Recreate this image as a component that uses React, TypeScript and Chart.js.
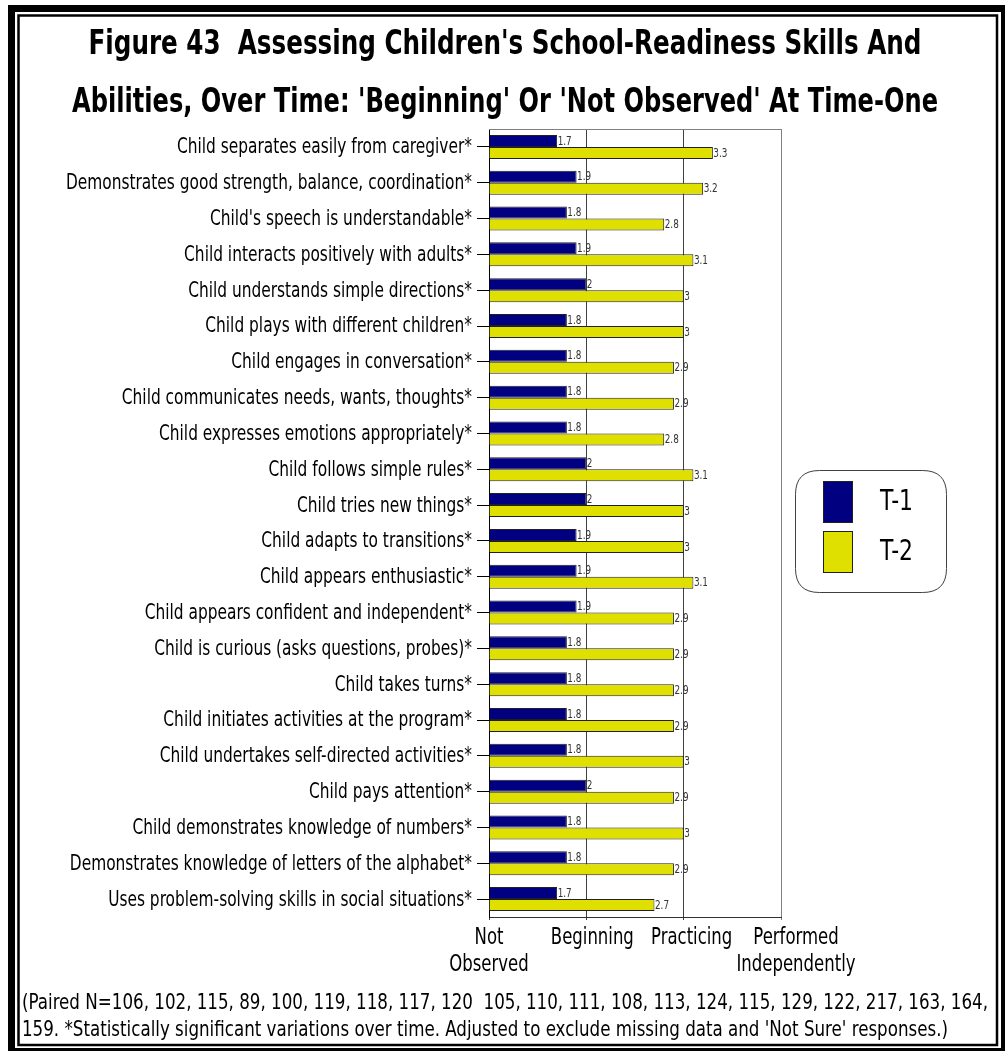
import React, { useEffect, useRef } from 'react';
import { Chart, registerables } from 'chart.js';

Chart.register(...registerables);

const categories = [
  'Child separates easily from caregiver*',
  'Demonstrates good strength, balance, coordination*',
  "Child's speech is understandable*",
  'Child interacts positively with adults*',
  'Child understands simple directions*',
  'Child plays with different children*',
  'Child engages in conversation*',
  'Child communicates needs, wants, thoughts*',
  'Child expresses emotions appropriately*',
  'Child follows simple rules*',
  'Child tries new things*',
  'Child adapts to transitions*',
  'Child appears enthusiastic*',
  'Child appears confident and independent*',
  'Child is curious (asks questions, probes)*',
  'Child takes turns*',
  'Child initiates activities at the program*',
  'Child undertakes self-directed activities*',
  'Child pays attention*',
  'Child demonstrates knowledge of numbers*',
  'Demonstrates knowledge of letters of the alphabet*',
  'Uses problem-solving skills in social situations*',
];

const t1Values = [1.7, 1.9, 1.8, 1.9, 2, 1.8, 1.8, 1.8, 1.8, 2, 2, 1.9, 1.9, 1.9, 1.8, 1.8, 1.8, 1.8, 2, 1.8, 1.8, 1.7];
const t2Values = [3.3, 3.2, 2.8, 3.1, 3, 3, 2.9, 2.9, 2.8, 3.1, 3, 3, 3.1, 2.9, 2.9, 2.9, 2.9, 3, 2.9, 3, 2.9, 2.7];

const seriesLabels = ['T-1', 'T-2'];
const seriesColors = ['#000080', '#e0e000'];

const xTickValues = [1, 2, 3, 4];
const xTickLabels = [['Not', 'Observed'], ['Beginning'], ['Practicing'], ['Performed', 'Independently']];

const titleLines = [
  "Figure 43  Assessing Children's School-Readiness Skills And",
  "Abilities, Over Time: 'Beginning' Or 'Not Observed' At Time-One",
];

const footnoteLines = [
  '(Paired N=106, 102, 115, 89, 100, 119, 118, 117, 120  105, 110, 111, 108, 113, 124, 115, 129, 122, 217, 163, 164,',
  "159. *Statistically significant variations over time. Adjusted to exclude missing data and 'Not Sure' responses.)",
];

const FONT = "'Liberation Sans Narrow', 'Arial Narrow', 'DejaVu Sans Condensed', sans-serif";

const W = 1005;
const H = 1051;

function roundRect(ctx: CanvasRenderingContext2D, x: number, y: number, w: number, h: number, r: number) {
  ctx.beginPath();
  ctx.moveTo(x + r, y);
  ctx.lineTo(x + w - r, y);
  ctx.quadraticCurveTo(x + w, y, x + w, y + r);
  ctx.lineTo(x + w, y + h - r);
  ctx.quadraticCurveTo(x + w, y + h, x + w - r, y + h);
  ctx.lineTo(x + r, y + h);
  ctx.quadraticCurveTo(x, y + h, x, y + h - r);
  ctx.lineTo(x, y + r);
  ctx.quadraticCurveTo(x, y, x + r, y);
  ctx.closePath();
}

const xLabelShift = [0, 6, 8, 15];

const decorPlugin = {
  id: 'decor',
  beforeDraw(chart: any) {
    const ctx = chart.ctx as CanvasRenderingContext2D;
    ctx.save();
    ctx.fillStyle = '#ffffff';
    ctx.fillRect(0, 0, chart.width, chart.height);
    ctx.restore();
  },
  afterDraw(chart: any) {
    const ctx = chart.ctx as CanvasRenderingContext2D;
    const ca = chart.chartArea;
    const xs = chart.scales.x;
    const ys = chart.scales.y;
    ctx.save();

    // plot frame top / right
    ctx.strokeStyle = '#808080';
    ctx.lineWidth = 1;
    ctx.beginPath();
    ctx.moveTo(ca.left, Math.round(ca.top) + 0.5);
    ctx.lineTo(Math.round(ca.right) + 0.5, Math.round(ca.top) + 0.5);
    ctx.lineTo(Math.round(ca.right) + 0.5, ca.bottom);
    ctx.stroke();

    // value labels
    ctx.font = `12px ${FONT}`;
    ctx.fillStyle = '#333333';
    ctx.textAlign = 'left';
    ctx.textBaseline = 'middle';
    chart.data.datasets.forEach((ds: any, di: number) => {
      const meta = chart.getDatasetMeta(di);
      meta.data.forEach((bar: any, i: number) => {
        ctx.save();
        ctx.translate(bar.x + 0.5, bar.y + 0.5);
        ctx.scale(0.82, 1);
        ctx.fillText(String(ds.data[i]), 0, 0);
        ctx.restore();
      });
    });

    // category labels (condensed)
    ctx.fillStyle = '#000000';
    ctx.font = `21px ${FONT}`;
    ctx.textAlign = 'right';
    ctx.textBaseline = 'middle';
    const ySx = Math.min(1, 295 / ctx.measureText(categories[0]).width);
    categories.forEach((lab, i) => {
      const y = ys.getPixelForTick(i);
      ctx.save();
      ctx.translate(472, y + 1);
      ctx.scale(ySx, 1);
      ctx.fillText(lab, 0, 0);
      ctx.restore();
    });

    // x tick labels (condensed)
    ctx.font = `23px ${FONT}`;
    ctx.textAlign = 'center';
    const xSx = Math.min(1, 83 / ctx.measureText('Beginning').width);
    xTickValues.forEach((v, i) => {
      const x = xs.getPixelForValue(v) + xLabelShift[i];
      xTickLabels[i].forEach((line, li) => {
        ctx.save();
        ctx.translate(x, 938 + li * 27);
        ctx.scale(xSx, 1);
        ctx.fillText(line, 0, 0);
        ctx.restore();
      });
    });

    // title
    ctx.fillStyle = '#000000';
    ctx.textAlign = 'center';
    ctx.textBaseline = 'alphabetic';
    ctx.font = `bold 34px ${FONT}`;
    ctx.fillText(titleLines[0], 505, 54, 833);
    ctx.fillText(titleLines[1], 505, 112, 866);

    // legend
    const lx = 795, ly = 470, lw = 151, lh = 122;
    ctx.strokeStyle = '#404040';
    ctx.lineWidth = 1;
    roundRect(ctx, lx + 0.5, ly + 0.5, lw, lh, 24);
    ctx.fillStyle = '#ffffff';
    ctx.fill();
    ctx.stroke();
    seriesLabels.forEach((lab, i) => {
      const sy = 481 + i * 50;
      ctx.fillStyle = seriesColors[i];
      ctx.fillRect(823, sy, 29, 41);
      ctx.strokeStyle = '#202020';
      ctx.strokeRect(823.5, sy + 0.5, 29, 41);
      ctx.fillStyle = '#000000';
      ctx.textAlign = 'left';
      ctx.textBaseline = 'middle';
      ctx.font = `29px ${FONT}`;
      ctx.fillText(lab, 880, sy + 21, 33);
    });

    // footnote
    ctx.fillStyle = '#000000';
    ctx.textAlign = 'left';
    ctx.textBaseline = 'middle';
    ctx.font = `22px ${FONT}`;
    ctx.fillText(footnoteLines[0], 22, 1003, 966);
    ctx.fillText(footnoteLines[1], 22, 1030, 926);

    // outer frame
    ctx.strokeStyle = '#000000';
    ctx.lineWidth = 7;
    ctx.strokeRect(11.5, 8.5, 993, 1043);
    ctx.lineWidth = 2.5;
    ctx.strokeRect(18.5, 15.5, 978.5, 1029.5);

    ctx.restore();
  },
};

export default function App() {
  const canvasRef = useRef<HTMLCanvasElement | null>(null);

  useEffect(() => {
    const canvas = canvasRef.current;
    if (!canvas) return;
    const chart = new Chart(canvas, {
      type: 'bar',
      data: {
        labels: categories,
        datasets: [
          {
            label: seriesLabels[0],
            data: t1Values,
            backgroundColor: seriesColors[0],
            borderColor: '#202020',
            borderWidth: 1,
            base: 1,
            categoryPercentage: 0.67,
            barPercentage: 1,
          } as any,
          {
            label: seriesLabels[1],
            data: t2Values,
            backgroundColor: seriesColors[1],
            borderColor: '#202020',
            borderWidth: 1,
            base: 1,
            categoryPercentage: 0.67,
            barPercentage: 1,
          } as any,
        ],
      },
      options: {
        indexAxis: 'y',
        responsive: false,
        animation: false,
        events: [],
        layout: { padding: { left: 0, top: 129, right: W - 781, bottom: 0 } },
        plugins: {
          legend: { display: false },
          title: { display: false },
          tooltip: { enabled: false },
        },
        scales: {
          x: {
            type: 'linear',
            min: 1,
            max: 4,
            afterBuildTicks: (scale: any) => {
              scale.ticks = xTickValues.map((v) => ({ value: v }));
            },
            afterFit: (scale: any) => {
              scale.height = H - 917;
            },
            ticks: {
              display: false,
            },
            grid: {
              color: (c: any) => (c.tick && c.tick.value === 4 ? '#808080' : '#404040'),
              tickLength: 3,
              lineWidth: 1,
            },
            border: { color: '#303030', width: 1 },
          },
          y: {
            type: 'category',
            offset: true,
            afterFit: (scale: any) => {
              scale.width = 489;
            },
            ticks: {
              display: false,
            },
            grid: {
              drawOnChartArea: false,
              drawTicks: true,
              tickLength: 12,
              offset: false,
              color: '#000000',
            },
            border: { color: '#000000', width: 1 },
          },
        },
      },
      plugins: [decorPlugin],
    } as any);
    return () => chart.destroy();
  }, []);

  return (
    <div style={{ position: 'absolute', left: 0, top: 0, width: W, height: H }}>
      <canvas ref={canvasRef} width={W} height={H} style={{ display: 'block', width: W, height: H }} />
    </div>
  );
}
